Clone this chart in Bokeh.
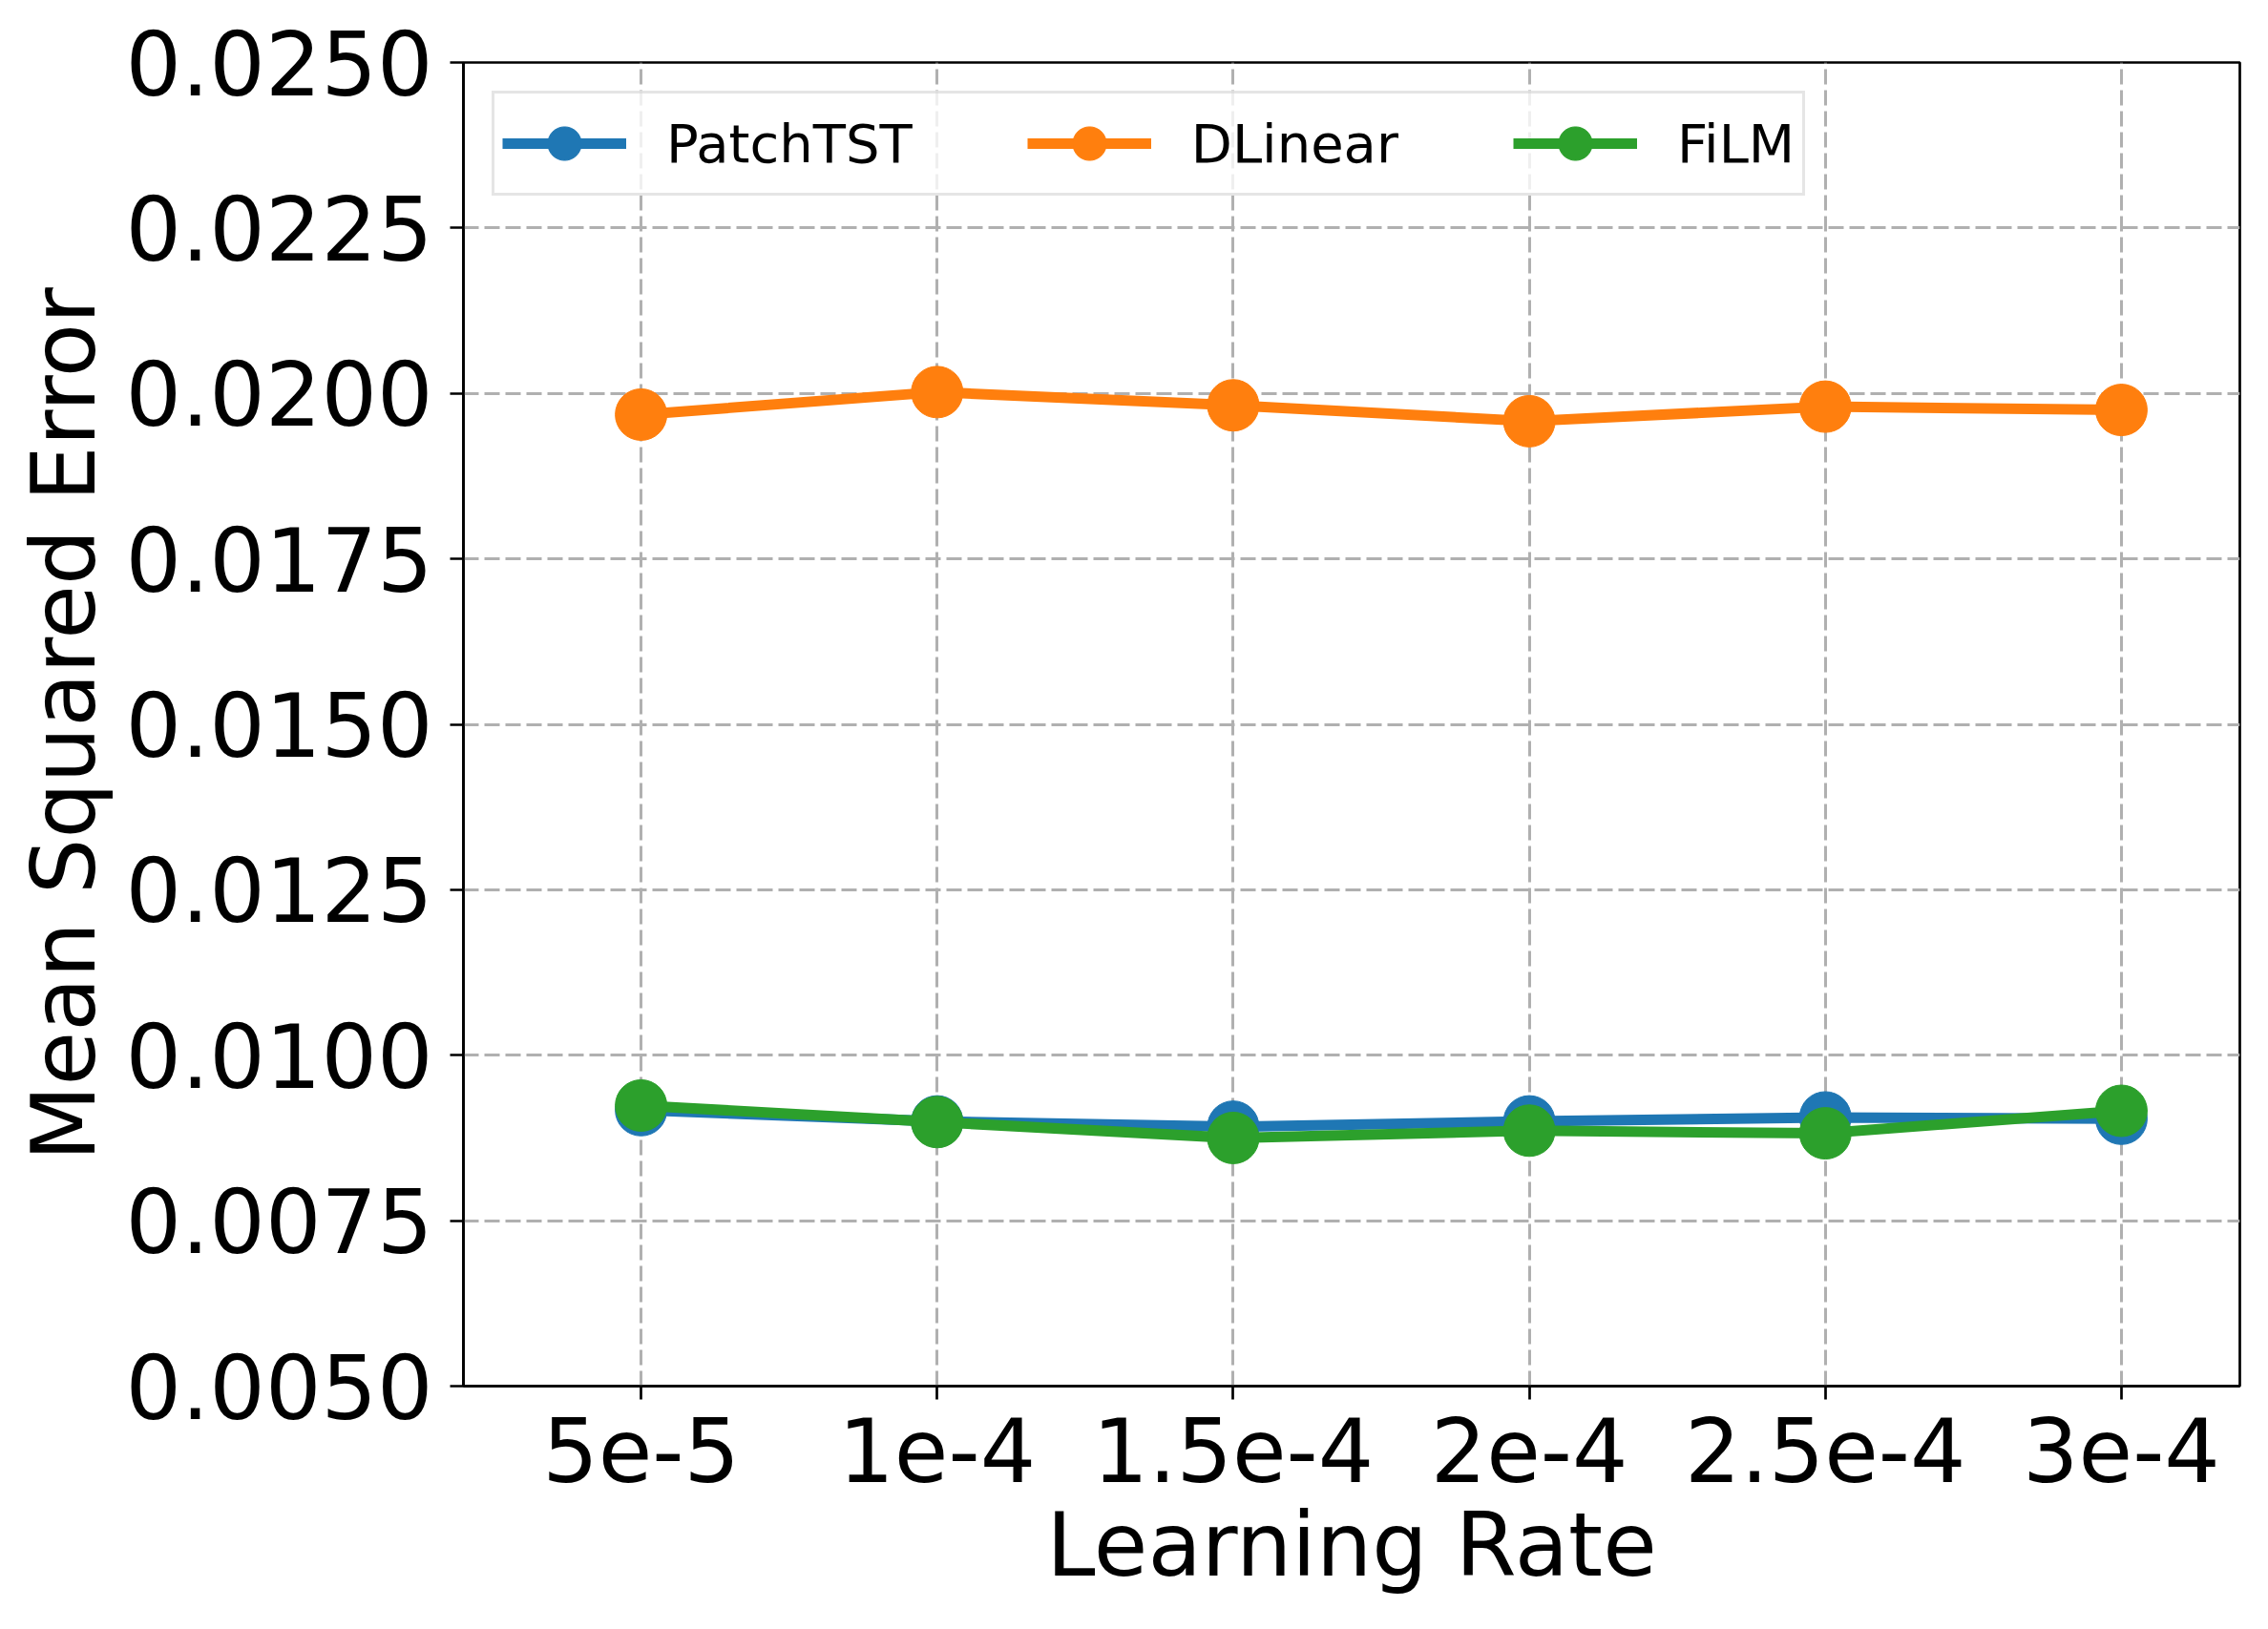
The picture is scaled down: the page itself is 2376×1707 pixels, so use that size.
from bokeh.plotting import figure
from bokeh.models import Range1d, FixedTicker, PrintfTickFormatter, Legend, LegendItem
from bokeh.embed import file_html
from bokeh.resources import INLINE

# ---- data ----
learning_rates = ["5e-5", "1e-4", "1.5e-4", "2e-4", "2.5e-4", "3e-4"]
patchtst = [0.00917, 0.00900, 0.00892, 0.00900, 0.00906, 0.00904]
dlinear = [0.01968, 0.02002, 0.01982, 0.01958, 0.01980, 0.01975]
film = [0.00924, 0.00899, 0.00875, 0.00886, 0.00882, 0.00916]
y_ticks = [0.005, 0.0075, 0.01, 0.0125, 0.015, 0.0175, 0.02, 0.0225, 0.025]

series = [("PatchTST", patchtst, "#1f77b4"),
          ("DLinear", dlinear, "#ff7f0e"),
          ("FiLM", film, "#2ca02c")]

FONT = "DejaVu Sans"
xs = list(range(len(learning_rates)))

p = figure(width=2360, height=1690, output_backend="svg", toolbar_location=None,
           x_range=Range1d(-0.6, 5.4), y_range=Range1d(0.005, 0.025),
           min_border_left=485, min_border_right=14, min_border_top=65,
           min_border_bottom=238)
p.background_fill_color = "white"
p.border_fill_color = "white"
p.outline_line_color = "black"
p.outline_line_width = 2.7

for ax in (p.xaxis, p.yaxis):
    ax.major_label_text_font = FONT
    ax.major_label_text_font_size = "92px"
    ax.major_label_text_color = "black"
    ax.axis_label_text_font = FONT
    ax.axis_label_text_font_size = "92px"
    ax.axis_label_text_font_style = "normal"
    ax.axis_label_text_color = "black"
    ax.axis_line_color = "black"
    ax.axis_line_width = 2.7
    ax.major_tick_line_color = "black"
    ax.major_tick_line_width = 2.7
    ax.major_tick_out = 14
    ax.major_tick_in = 0
    ax.minor_tick_line_color = None
    ax.major_label_standoff = 18

p.xaxis.ticker = FixedTicker(ticks=xs)
p.xaxis.major_label_overrides = {i: lab for i, lab in enumerate(learning_rates)}
p.xaxis.axis_label = "Learning Rate"
p.xaxis.axis_label_standoff = 10
p.yaxis.ticker = FixedTicker(ticks=y_ticks)
p.yaxis.formatter = PrintfTickFormatter(format="%.4f")
p.yaxis.axis_label = "Mean Squared Error"
p.yaxis.axis_label_standoff = 8

for g in (p.xgrid, p.ygrid):
    g.grid_line_color = "#b0b0b0"
    g.grid_line_width = 3
    g.grid_line_dash = "16 6"
p.xgrid.ticker = FixedTicker(ticks=xs)
p.ygrid.ticker = FixedTicker(ticks=y_ticks)

items = []
for name, vals, color in series:
    l = p.line(xs, vals, line_color=color, line_width=11)
    s = p.scatter(xs, vals, size=54, fill_color=color, line_color=color, marker="circle")
    items.append(LegendItem(label=name, renderers=[l, s]))

legend = Legend(items=items, orientation="horizontal", location="top_left",
                label_text_font=FONT, label_text_font_size="56px",
                label_text_color="black",
                glyph_width=130, glyph_height=88, label_standoff=42,
                spacing=120, padding=8, margin=30,
                border_line_color="#cccccc", border_line_width=3,
                background_fill_color="white", background_fill_alpha=0.8)
p.add_layout(legend, "center")

open("out.html", "w").write(file_html(p, INLINE))
